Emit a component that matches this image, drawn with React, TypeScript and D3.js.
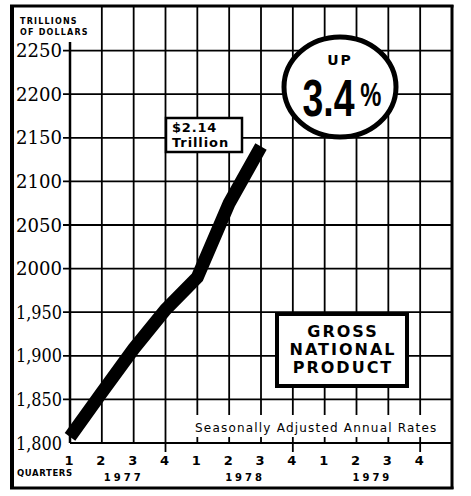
import React from 'react';
import * as d3 from 'd3';

// GNP, seasonally adjusted annual rates, billions of dollars (Q1 1977 .. Q3 1978)
const GNP = [1807, 1858, 1908, 1953, 1990, 2075, 2140];
const Y_TICKS = [1800, 1850, 1900, 1950, 2000, 2050, 2100, 2150, 2200, 2250];
const Y_LABELS = ['1,800', '1,850', '1,900', '1,950', '2000', '2050', '2100', '2150', '2200', '2250'];
const QUARTER_NAMES = ['1', '2', '3', '4'];
const YEARS = ['1977', '1978', '1979'];

const W = 471;
const H = 496;
const SANS = '"DejaVu Sans", sans-serif';

export default function App() {
  const nq = YEARS.length * QUARTER_NAMES.length;
  const x = d3.scaleLinear().domain([0, nq]).range([70, 452]);
  const y = d3.scaleLinear().domain([1800, 2300]).range([443, 7]);
  const top = y(2300);
  const base = y(1800);
  const right = x(nq);

  const line = d3.line<number>()
    .x((d, i) => x(i))
    .y(d => y(d));

  const verticals = d3.range(1, nq).map(i => {
    const xi = x(i);
    const isQ4 = i % 4 === 3;
    const broken = xi > 185;
    return (
      <g key={'v' + i} stroke="#000" strokeWidth={1.8}>
        <line x1={xi} x2={xi} y1={top} y2={broken ? 415 : base} />
        {broken && <line x1={xi} x2={xi} y1={437} y2={base} />}
        {isQ4 && <line x1={xi} x2={xi} y1={base} y2={base + 9} />}
      </g>
    );
  });

  const horizontals = Y_TICKS.slice(1).map(v => (
    <line key={'h' + v} x1={63} x2={right} y1={y(v)} y2={y(v)} stroke="#000" strokeWidth={1.8} />
  ));

  const yLabels = Y_TICKS.map((v, i) => (
    <text
      key={'yl' + v}
      x={62}
      y={y(v)}
      dy="0.36em"
      textAnchor="end"
      fontFamily='"DejaVu Serif", serif'
      fontSize={18.5}
      textLength={46}
      lengthAdjust="spacingAndGlyphs"
    >
      {Y_LABELS[i]}
    </text>
  ));

  const qLabels = d3.range(nq).map(i => (
    <text
      key={'ql' + i}
      x={x(i) - 1}
      y={465}
      textAnchor="middle"
      fontFamily={SANS}
      fontWeight="bold"
      fontSize={13}
    >
      {QUARTER_NAMES[i % 4]}
    </text>
  ));

  const yearLabels = YEARS.map((yr, k) => (
    <text
      key={'yr' + yr}
      x={(x(k * 4 + 1) + x(k * 4 + 2)) / 2 + (k === 0 ? 6 : 0)}
      y={481}
      textAnchor="middle"
      fontFamily={SANS}
      fontWeight="bold"
      fontSize={10}
      letterSpacing={3}
    >
      {yr}
    </text>
  ));

  return (
    <svg width={W} height={H} style={{ position: 'absolute', left: 0, top: 0, background: '#fff' }}>
      <rect x={0} y={0} width={W} height={H} fill="#fff" />
      {horizontals}
      {verticals}
      {/* y axis */}
      <line x1={x(0)} x2={x(0)} y1={42} y2={base} stroke="#000" strokeWidth={2.5} />
      {/* x axis */}
      <line x1={x(0)} x2={right} y1={base} y2={base} stroke="#000" strokeWidth={2.2} />

      {/* outer frame */}
      <line x1={12} x2={12} y1={top - 2} y2={488} stroke="#000" strokeWidth={4} />
      <line x1={10} x2={right + 1.5} y1={top - 1} y2={top - 1} stroke="#000" strokeWidth={3} />
      <line x1={right} x2={right} y1={top - 2} y2={489} stroke="#000" strokeWidth={3} />
      <line x1={10} x2={right + 1.5} y1={488} y2={488} stroke="#000" strokeWidth={3} />

      <text x={20} y={24} fontFamily={SANS} fontWeight="bold" fontSize={8} letterSpacing={1.2}>TRILLIONS</text>
      <text x={20} y={35} fontFamily={SANS} fontWeight="bold" fontSize={8} letterSpacing={1.2}>OF DOLLARS</text>
      {yLabels}

      <path
        d={line(GNP) || ''}
        fill="none"
        stroke="#000"
        strokeWidth={13}
        strokeLinejoin="miter"
        strokeLinecap="butt"
      />

      {/* $2.14 Trillion callout */}
      <rect x={166} y={118} width={76} height={34} fill="#fff" stroke="#000" strokeWidth={2.5} />
      <text x={172} y={132} fontFamily={SANS} fontWeight="bold" fontSize={13} letterSpacing={0.8}>$2.14</text>
      <text x={172} y={147} fontFamily={SANS} fontWeight="bold" fontSize={13} letterSpacing={0.9}>Trillion</text>

      {/* UP 3.4% badge */}
      <ellipse cx={340} cy={87} rx={56} ry={50} fill="#fff" stroke="#000" strokeWidth={5} />
      <text x={340} y={65} textAnchor="middle" fontFamily={SANS} fontWeight="bold" fontSize={14} letterSpacing={2}>
        UP
      </text>
      <text
        transform="translate(342,116) scale(0.72,1)"
        textAnchor="middle"
        fontFamily='"Liberation Sans", Arial, sans-serif'
        fontWeight="bold"
      >
        <tspan fontSize={52}>3.4</tspan>
        <tspan fontSize={33} dx={8} dy={-10}>%</tspan>
      </text>

      {/* title box */}
      <rect x={277} y={314} width={130} height={72} fill="#fff" stroke="#000" strokeWidth={4} />
      <text textAnchor="middle" fontFamily={SANS} fontWeight="bold" fontSize={16} letterSpacing={2}>
        <tspan x={343} y={337}>GROSS</tspan>
        <tspan x={343} y={355}>NATIONAL</tspan>
        <tspan x={343} y={373}>PRODUCT</tspan>
      </text>

      <text x={195} y={432} fontFamily={SANS} fontSize={12} letterSpacing={1.2}>
        Seasonally Adjusted Annual Rates
      </text>

      {qLabels}
      <text x={17} y={476} fontFamily={SANS} fontWeight="bold" fontSize={8.5} letterSpacing={0.6}>
        QUARTERS
      </text>
      {yearLabels}
    </svg>
  );
}
